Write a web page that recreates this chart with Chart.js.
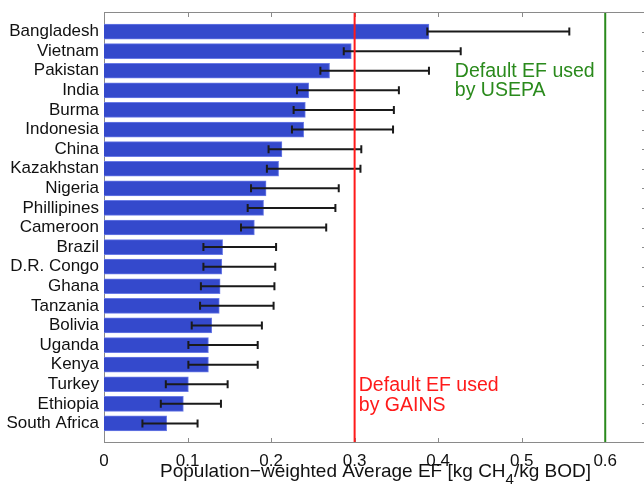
<!doctype html>
<html>
<head>
  <meta charset="utf-8" />
  <script src="https://cdn.jsdelivr.net/npm/chart.js@4.4.0/dist/chart.umd.min.js"></script>
  <style>
    html, body { margin: 0; padding: 0; background: #fff; overflow: hidden; }
    #wrap { width: 650px; height: 488px; }
  </style>
</head>
<body>
<div id="wrap"><canvas id="c"></canvas></div>
<script>
  // countries, top to bottom
  const countries = [
    "Bangladesh", "Vietnam", "Pakistan", "India", "Burma", "Indonesia", "China",
    "Kazakhstan", "Nigeria", "Phillipines", "Cameroon", "Brazil", "D.R. Congo",
    "Ghana", "Tanzania", "Bolivia", "Uganda", "Kenya", "Turkey", "Ethiopia", "South Africa"
  ];
  // population-weighted average EF [kg CH4/kg BOD]
  const efMean = [
    0.389, 0.296, 0.270, 0.245, 0.241, 0.239, 0.213,
    0.209, 0.194, 0.191, 0.180, 0.142, 0.141,
    0.139, 0.138, 0.129, 0.125, 0.125, 0.101, 0.095, 0.075
  ];
  const efLow = [
    0.387, 0.287, 0.259, 0.231, 0.227, 0.225, 0.197,
    0.195, 0.176, 0.172, 0.164, 0.119, 0.119,
    0.116, 0.115, 0.105, 0.101, 0.101, 0.074, 0.068, 0.046
  ];
  const efHigh = [
    0.557, 0.427, 0.389, 0.353, 0.347, 0.346, 0.308,
    0.307, 0.281, 0.277, 0.266, 0.206, 0.205,
    0.204, 0.203, 0.189, 0.184, 0.184, 0.148, 0.140, 0.112
  ];
  const xTickValues = [0, 0.1, 0.2, 0.3, 0.4, 0.5, 0.6];

  // default emission factors
  const defaults = [
    { value: 0.3, color: "#ff1a1a", text: ["Default EF used", "by GAINS"], tx: 0.305, ty: 19.37 },
    { value: 0.6, color: "#2a8a1c", text: ["Default EF used", "by USEPA"], tx: 0.42, ty: 3.33 }
  ];

  const FONT = "'Liberation Sans', Arial, Helvetica, sans-serif";
  Chart.defaults.font.family = FONT;
  Chart.defaults.color = "#111";

  // one empty slot above and below, like the MATLAB y-limits [0 22]
  const labels = ["", ...countries, ""];
  const barData = [null, ...efMean, null];

  const framePlugin = {
    id: "frame",
    beforeDatasetsDraw(chart) {
      const { ctx, chartArea: a, scales: { x, y } } = chart;
      ctx.save();
      ctx.strokeStyle = "#8a8a8a";
      ctx.lineWidth = 1;
      ctx.strokeRect(a.left + 0.5, a.top + 0.5, a.right - a.left - 1, a.bottom - a.top - 1);
      ctx.beginPath();
      xTickValues.forEach(v => {
        const px = Math.round(x.getPixelForValue(v)) + 0.5;
        ctx.moveTo(px, a.bottom); ctx.lineTo(px, a.bottom - 5);
        ctx.moveTo(px, a.top); ctx.lineTo(px, a.top + 5);
      });
      countries.forEach((c, i) => {
        const py = Math.round(y.getPixelForValue(i + 1)) + 0.5;
        ctx.moveTo(a.left, py); ctx.lineTo(a.left + 5, py);
        ctx.moveTo(a.right, py); ctx.lineTo(a.right - 5, py);
      });
      ctx.stroke();
      ctx.restore();
    },
    afterDatasetsDraw(chart) {
      const { ctx, chartArea: a, scales: { x, y } } = chart;
      ctx.save();
      // error bars
      ctx.strokeStyle = "#1a1a1a";
      ctx.lineWidth = 2;
      ctx.beginPath();
      countries.forEach((c, i) => {
        const py = y.getPixelForValue(i + 1);
        const x0 = x.getPixelForValue(efLow[i]);
        const x1 = x.getPixelForValue(efHigh[i]);
        ctx.moveTo(x0, py); ctx.lineTo(x1, py);
        ctx.moveTo(x0, py - 4); ctx.lineTo(x0, py + 4);
        ctx.moveTo(x1, py - 4); ctx.lineTo(x1, py + 4);
      });
      ctx.stroke();
      // default EF lines and notes
      defaults.forEach(d => {
        const px = x.getPixelForValue(d.value);
        ctx.strokeStyle = d.color;
        ctx.lineWidth = 2;
        ctx.beginPath();
        ctx.moveTo(px, a.top + 1); ctx.lineTo(px, a.bottom - 1);
        ctx.stroke();
        ctx.fillStyle = d.color;
        ctx.font = "19.5px " + FONT;
        ctx.textBaseline = "alphabetic";
        ctx.textAlign = "left";
        d.text.forEach((t, k) => {
          ctx.fillText(t, x.getPixelForValue(d.tx), y.getPixelForValue(d.ty + k * 0.98));
        });
      });
      ctx.restore();
    },
    afterDraw(chart) {
      // x-axis title with subscript
      const { ctx, chartArea: a } = chart;
      const parts = [["Population\u2212weighted Average EF [kg CH", 19, 0], ["4", 15, 7], ["/kg BOD]", 19, 0]];
      ctx.save();
      ctx.fillStyle = "#111";
      ctx.textBaseline = "alphabetic";
      ctx.textAlign = "left";
      let total = 0;
      parts.forEach(p => { ctx.font = p[1] + "px " + FONT; total += ctx.measureText(p[0]).width; });
      let cx = (a.left + a.right) / 2 - total / 2;
      const base = a.bottom + 33.5;
      parts.forEach(p => {
        ctx.font = p[1] + "px " + FONT;
        ctx.fillText(p[0], cx, base + p[2]);
        cx += ctx.measureText(p[0]).width;
      });
      ctx.restore();
    }
  };

  new Chart(document.getElementById("c"), {
    type: "bar",
    data: {
      labels,
      datasets: [{
        data: barData,
        backgroundColor: "#3449cc",
        borderColor: "#6a7be6",
        borderWidth: 1,
        barThickness: 15
      }]
    },
    options: {
      indexAxis: "y",
      responsive: true,
      maintainAspectRatio: false,
      animation: false,
      layout: { padding: { top: 12, right: 3, left: 0, bottom: 0 } },
      plugins: { legend: { display: false }, tooltip: { enabled: false } },
      scales: {
        x: {
          type: "linear",
          min: 0,
          max: 0.65,
          grid: { display: false, drawTicks: false },
          border: { display: false },
          afterFit(s) { s.height = 45; s.paddingLeft = 0; s.paddingRight = 0; },
          ticks: {
            stepSize: 0.1,
            includeBounds: false,
            padding: 8,
            font: { size: 17 },
            color: "#111",
            maxRotation: 0,
            callback: v => String(Math.round(v * 10) / 10)
          }
        },
        y: {
          type: "category",
          offset: false,
          grid: { display: false, drawTicks: false },
          border: { display: false },
          afterFit(s) { s.width = 104; s.paddingTop = 0; s.paddingBottom = 0; },
          ticks: {
            autoSkip: false,
            padding: 5,
            font: { size: 17 },
            color: "#111"
          }
        }
      }
    },
    plugins: [framePlugin]
  });
</script>
</body>
</html>
